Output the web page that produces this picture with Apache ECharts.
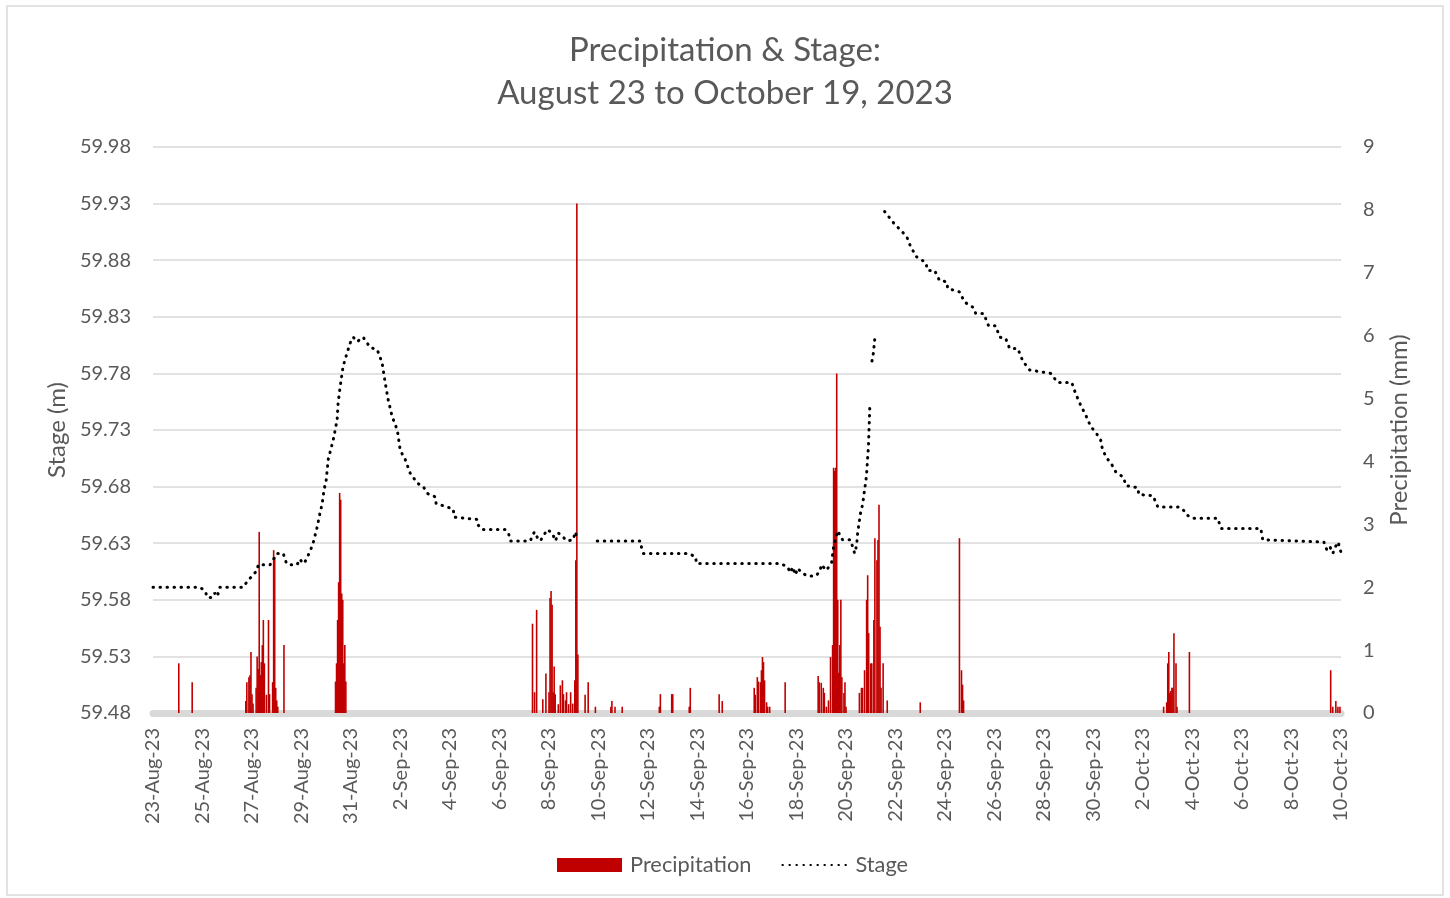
<!DOCTYPE html>
<html>
<head>
<meta charset="utf-8">
<script src="https://cdn.jsdelivr.net/npm/echarts@6/dist/echarts.min.js"></script>
<style>
html,body{margin:0;padding:0;background:#fff;}
#main{width:1450px;height:898px;}
</style>
</head>
<body>
<div id="main"></div>
<script>
// stage readings: days since 23-Aug-23 00:00, stage in m (null = missing data)
var stageDays = [0.00,1.90,2.10,2.20,2.40,2.50,2.60,2.70,3.64,3.80,4.00,4.21,4.25,4.73,5.01,5.26,5.38,5.46,5.82,5.94,6.05,6.15,6.35,6.47,6.63,6.75,6.83,6.91,7.00,7.08,7.28,7.44,7.48,7.56,7.68,7.84,7.97,8.09,8.25,8.49,8.77,9.06,9.26,9.38,9.50,9.66,9.87,9.99,10.19,10.39,10.68,10.92,11.08,11.40,11.44,11.89,12.13,12.17,13.10,13.14,13.30,14.23,14.36,14.44,15.24,15.41,15.53,15.65,15.93,16.13,16.26,16.38,16.74,16.98,17.06,17.14,17.50,17.95,19.69,19.73,19.81,21.63,21.92,21.96,25.35,25.64,25.75,25.85,25.95,26.05,26.20,26.45,26.77,26.95,27.00,27.21,27.42,27.50,27.58,27.66,27.86,28.18,28.35,28.43,28.47,28.51,28.59,28.67,28.75,28.79,28.83,28.87,28.89,28.91,28.92,28.94,28.95,28.96,29.00,29.05,29.10,29.13,29.16,29.30,29.56,29.92,30.45,30.61,30.85,31.22,31.30,31.58,31.78,32.07,32.11,32.59,32.79,33.16,33.24,33.56,33.76,34.05,34.21,34.45,34.61,34.94,35.14,35.42,36.27,36.55,37.12,37.28,37.48,37.69,37.89,38.09,38.29,38.37,38.58,38.70,38.90,39.22,39.30,39.79,39.83,40.40,40.60,41.45,41.70,41.77,42.01,43.02,43.15,44.76,44.84,47.31,47.43,47.55,47.67,47.80,47.88,48.00];
var stageM = [59.591,59.591,59.588,59.582,59.582,59.586,59.583,59.591,59.591,59.596,59.601,59.606,59.611,59.611,59.621,59.621,59.613,59.611,59.611,59.616,59.612,59.614,59.623,59.630,59.644,59.657,59.664,59.677,59.686,59.704,59.721,59.739,59.754,59.768,59.786,59.798,59.807,59.812,59.808,59.812,59.803,59.801,59.789,59.772,59.757,59.742,59.730,59.712,59.704,59.692,59.683,59.680,59.674,59.671,59.665,59.662,59.660,59.653,59.651,59.646,59.642,59.642,59.639,59.632,59.632,59.640,59.635,59.632,59.642,59.639,59.632,59.639,59.632,59.633,59.640,59.635,null,59.632,59.632,59.627,59.621,59.621,59.618,59.612,59.612,59.609,59.604,59.609,59.602,59.608,59.604,59.601,59.601,59.605,59.611,59.606,59.613,59.627,59.633,59.641,59.633,59.633,59.621,59.628,59.639,59.645,59.657,59.664,59.677,59.683,59.690,59.704,59.710,59.717,59.723,59.736,59.742,59.749,null,59.791,59.797,59.803,59.810,null,59.923,59.913,59.901,59.892,59.883,59.878,59.871,59.871,59.862,59.861,59.855,59.852,59.843,59.838,59.833,59.833,59.822,59.822,59.812,59.811,59.802,59.802,59.791,59.783,59.780,59.772,59.772,59.762,59.752,59.743,59.733,59.728,59.721,59.712,59.704,59.701,59.693,59.688,59.681,59.679,59.673,59.672,59.662,59.662,59.658,59.655,59.652,59.652,59.643,59.643,59.633,59.631,59.624,59.627,59.621,59.628,59.631,59.622];

// precipitation: hour since 23-Aug-23 00:00, mm in that hour
var precipHours = [25,38,90,91,93,94,95,96,97,100,101,102,103,104,105,106,107,108,110,112,113,116,117,118,119,120,121,127,
  177,178,179,180,181,182,183,184,185,186,187,
  368,370,372,378,381,384,385,386,387,388,389,390,393,395,397,398,400,401,403,405,407,409,410,411,412,419,422,429,444,445,448,455,
  491,492,503,504,520,521,549,552,
  583,584,586,587,589,590,591,592,593,595,596,598,613,
  645,646,648,650,651,653,655,657,659,660,661,662,663,664,665,666,667,668,670,671,672,
  685,687,688,690,692,693,694,696,697,699,700,702,703,704,705,706,708,712,744,
  782,784,785,786,
  980,983,984,985,986,987,988,989,990,992,993,1005,
  1142,1144,1147,1149,1151];
var precipMm = [0.79,0.49,0.19,0.49,0.57,0.6,0.97,0.3,0.15,0.4,0.9,0.7,2.88,0.6,0.81,1.08,1.48,0.79,0.29,1.48,0.3,0.49,2.59,2.48,0.4,0.2,0.1,1.08,
  0.5,0.79,1.48,2.08,3.5,3.39,1.9,1.8,0.79,1.08,0.5,
  1.42,0.33,1.64,0.22,0.63,0.33,1.83,1.94,1.72,0.33,0.74,0.3,0.14,0.44,0.52,0.3,0.2,0.33,0.14,0.33,0.15,0.52,2.43,8.1,0.93,0.29,0.49,0.1,0.1,0.19,0.1,0.1,
  0.1,0.3,0.3,0.3,0.1,0.4,0.3,0.19,
  0.4,0.29,0.57,0.5,0.49,0.68,0.89,0.81,0.52,0.17,0.1,0.1,0.49,
  0.59,0.49,0.48,0.4,0.32,0.1,0.2,0.89,1.08,3.9,3.85,3.9,5.4,1.8,0.64,1.08,1.8,0.57,0.32,0.49,0.1,
  0.32,0.4,0.4,0.68,1.8,2.19,1.27,0.79,0.79,1.48,2.78,2.43,2.75,3.31,1.37,0.4,0.79,0.2,0.17,
  2.78,0.68,0.45,0.2,
  0.1,0.17,0.79,0.97,0.32,0.35,0.4,0.4,1.27,0.79,0.1,0.97,
  0.68,0.1,0.19,0.1,0.1];

var monthNames = ['Jan','Feb','Mar','Apr','May','Jun','Jul','Aug','Sep','Oct','Nov','Dec'];
var startYear = 2023, startMonth = 7, startDay = 23;

function dayLabel(v){
	var d = new Date(startYear, startMonth, startDay + Math.round(v));
	return d.getDate() + '-' + monthNames[d.getMonth()] + '-' + String(d.getFullYear()).slice(2);
}

var stageData = [];
for (var i=0;i<stageDays.length;i++){
	stageData.push([stageDays[i], stageM[i] === null ? '-' : stageM[i]]);
}
var precipData = [];
for (var j=0;j<precipHours.length;j++){
	precipData.push([precipHours[j]/24, precipMm[j]]);
}

var txt = '#595959';
var fam = 'Lato';
var myChart = echarts.init(document.getElementById('main'));
var option = {
	backgroundColor: '#fff',
	animation: false,
	textStyle: {fontFamily: fam},
	title: {
		text: 'Precipitation & Stage:\nAugust 23 to October 19, 2023',
		left: 'center',
		top: 24,
		textStyle: {color: txt, fontSize: 33, fontWeight: 'normal', lineHeight: 43, fontFamily: fam}
	},
	graphic: [{
		type: 'rect',
		shape: {x: 7, y: 6, width: 1436, height: 889},
		style: {fill: 'none', stroke: '#d9d9d9', lineWidth: 1.5},
		silent: true
	}],
	legend: {
		bottom: 17,
		left: 552,
		itemWidth: 65,
		itemHeight: 14,
		itemGap: 30,
		textStyle: {color: txt, fontSize: 21.8, fontFamily: fam, padding: [0, 0, 0, 3]},
		data: [{name: 'Precipitation', icon: 'rect'}, {name: 'Stage', itemStyle: {opacity: 0}}]
	},
	grid: {left: 153, right: 109, top: 147, bottom: 185, containLabel: false},
	xAxis: {
		type: 'value',
		min: 0,
		max: 48,
		interval: 2,
		offset: 3,
		axisLine: {show: true, lineStyle: {color: '#d9d9d9', width: 7}},
		axisTick: {show: false},
		splitLine: {show: false},
		axisLabel: {rotate: 90, margin: 12, color: txt, fontSize: 20, fontFamily: fam, formatter: dayLabel}
	},
	yAxis: [{
		type: 'value',
		min: 59.48,
		max: 59.98,
		interval: 0.05,
		name: 'Stage (m)',
		nameLocation: 'middle',
		nameRotate: 90,
		nameGap: 84,
		nameTextStyle: {color: txt, fontSize: 24, fontFamily: fam},
		axisLine: {show: false},
		axisTick: {show: false},
		axisLabel: {margin: 22, color: txt, fontSize: 20, fontFamily: fam, formatter: function(v){ return v.toFixed(2); }},
		splitLine: {lineStyle: {color: '#d9d9d9', width: 1.5}}
	}, {
		type: 'value',
		min: 0,
		max: 9,
		interval: 1,
		name: 'Precipitation (mm)',
		nameLocation: 'middle',
		nameRotate: 90,
		nameGap: 46,
		nameTextStyle: {color: txt, fontSize: 24, fontFamily: fam},
		axisLine: {show: false},
		axisTick: {show: false},
		axisLabel: {margin: 22, color: txt, fontSize: 20, fontFamily: fam},
		splitLine: {show: false}
	}],
	series: [{
		name: 'Precipitation',
		type: 'bar',
		yAxisIndex: 1,
		barWidth: 1.6,
		itemStyle: {color: '#c00000'},
		data: precipData
	}, {
		name: 'Stage',
		type: 'line',
		yAxisIndex: 0,
		symbol: 'none',
		showSymbol: false,
		connectNulls: false,
		z: 3,
		lineStyle: {color: '#000', width: 3, type: [0.5, 6.5], cap: 'round'},
		itemStyle: {color: '#000'},
		data: stageData
	}]
};
myChart.setOption(option);
</script>
</body>
</html>
